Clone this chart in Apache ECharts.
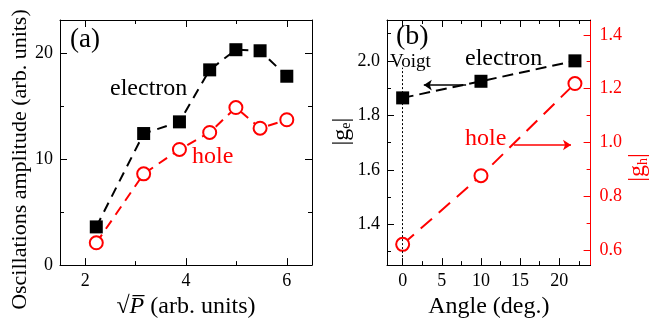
<!DOCTYPE html>
<html>
<head>
<meta charset="utf-8">
<script src="https://cdn.jsdelivr.net/npm/echarts@6/dist/echarts.min.js"></script>
<style>
  html, body { margin: 0; padding: 0; background: #fff; }
  #chart { width: 651px; height: 324px; }
</style>
</head>
<body>
<div id="chart"></div>
<script>
  // panel (a): oscillation amplitude vs sqrt(P)
  const sqrtP = [2.22, 3.16, 3.87, 4.47, 4.99, 5.47, 6.0];
  const electronAmp = [3.6, 12.4, 13.5, 18.4, 20.3, 20.2, 17.8];
  const holeAmp = [2.1, 8.6, 10.9, 12.5, 14.85, 12.9, 13.7];
  const sqrtPTicks = [2, 4, 6];
  const sqrtPMinor = [3, 5];
  const ampTicks = [0, 10, 20];
  const ampMinor = [5, 15];

  // panel (b): g-factors vs angle
  const angle = [0, 10, 22];
  const gElectron = [1.864, 1.925, 2.0];
  const gHole = [0.622, 0.877, 1.219];
  const angleTicks = [0, 5, 10, 15, 20];
  const angleMinor = [2.5, 7.5, 12.5, 17.5, 22.5];
  const geTicks = [1.4, 1.6, 1.8, 2.0];
  const geMinor = [1.3, 1.5, 1.7, 1.9, 2.1];
  const ghTicks = [0.6, 0.8, 1.0, 1.2, 1.4];
  const ghMinor = [0.7, 0.9, 1.1, 1.3];

  const serif = 'Times New Roman, Liberation Serif, DejaVu Serif, serif';
  const RED = '#ff0000';

  function tickAxis(grid, pos, min, max, ticks, len, color) {
    return {
      type: 'value', gridIndex: grid, position: pos, min: min, max: max,
      splitLine: { show: false },
      axisLine: { show: false, onZero: false },
      axisTick: { inside: true, length: len, customValues: ticks, lineStyle: { color: color, width: 1 } },
      axisLabel: { show: false }
    };
  }
  function frame(ax, color) {
    ax.axisLine = { show: true, onZero: false, lineStyle: { color: color, width: 1 } };
    return ax;
  }
  function labels(ax, ticks, color, margin, fmt) {
    ax.axisLabel = {
      show: true, customValues: ticks, color: color, margin: margin,
      fontFamily: serif, fontSize: 18, formatter: fmt
    };
    return ax;
  }
  function txt(x, y, s, size, color) {
    return {
      type: 'text', x: x, y: y, silent: true,
      style: {
        text: s, fontFamily: serif, fontSize: size, fill: color || '#000',
        align: 'left', verticalAlign: 'middle'
      }
    };
  }
  const oneDec = v => v.toFixed(1);

  // x axes
  let xa0 = labels(frame(tickAxis(0, 'bottom', 1.5, 6.5, sqrtPTicks, 7, '#000'), '#000'), sqrtPTicks, '#000', 7);
  xa0.name = '√{i|P\u0305} (arb. units)';
  xa0.nameLocation = 'middle';
  xa0.nameGap = 27;
  xa0.nameTextStyle = { fontFamily: serif, fontSize: 24, color: '#000',
    rich: { i: { fontFamily: serif, fontSize: 24, fontStyle: 'italic', color: '#000' } } };

  let xa4 = labels(frame(tickAxis(1, 'bottom', -2, 24, angleTicks, 7, '#000'), '#000'), angleTicks, '#000', 7);
  xa4.name = 'Angle (deg.)';
  xa4.nameLocation = 'middle';
  xa4.nameGap = 27;
  xa4.nameTextStyle = { fontFamily: serif, fontSize: 24, color: '#000' };

  const xAxes = [
    xa0,
    tickAxis(0, 'bottom', 1.5, 6.5, sqrtPMinor, 4, '#000'),
    frame(tickAxis(0, 'top', 1.5, 6.5, sqrtPTicks, 7, '#000'), '#000'),
    tickAxis(0, 'top', 1.5, 6.5, sqrtPMinor, 4, '#000'),
    xa4,
    tickAxis(1, 'bottom', -2, 24, angleMinor, 4, '#000'),
    frame(tickAxis(1, 'top', -2, 24, angleTicks, 7, '#000'), '#000'),
    tickAxis(1, 'top', -2, 24, angleMinor, 4, '#000')
  ];

  // y axes
  let ya0 = labels(frame(tickAxis(0, 'left', 0, 23.1, ampTicks, 7, '#000'), '#000'), ampTicks, '#000', 7);
  ya0.name = 'Oscillations amplitude (arb. units)';
  ya0.nameLocation = 'middle';
  ya0.nameRotate = 90;
  ya0.nameGap = 27;
  ya0.nameTextStyle = { fontFamily: serif, fontSize: 22, color: '#000', padding: [0, 34, 0, 0] };

  let ya4 = labels(frame(tickAxis(1, 'left', 1.25, 2.15, geTicks, 7, '#000'), '#000'), geTicks, '#000', 7, oneDec);
  ya4.name = '|g{s|e}|';
  ya4.nameLocation = 'middle';
  ya4.nameRotate = 90;
  ya4.nameGap = 25;
  ya4.nameTextStyle = { fontFamily: serif, fontSize: 24, color: '#000', padding: [0, 0, 0, 22],
    rich: { s: { fontFamily: serif, fontSize: 14, color: '#000', verticalAlign: 'bottom' } } };

  let ya6 = labels(frame(tickAxis(1, 'right', 0.545, 1.455, ghTicks, 7, RED), RED), ghTicks, RED, 9, oneDec);
  ya6.name = '|g{s|h}|';
  ya6.nameLocation = 'middle';
  ya6.nameRotate = 90;
  ya6.nameGap = 20;
  ya6.nameTextStyle = { fontFamily: serif, fontSize: 24, color: RED, padding: [0, 50, 0, 0],
    rich: { s: { fontFamily: serif, fontSize: 14, color: RED, verticalAlign: 'bottom' } } };

  const yAxes = [
    ya0,
    tickAxis(0, 'left', 0, 23.1, ampMinor, 4, '#000'),
    frame(tickAxis(0, 'right', 0, 23.1, ampTicks, 7, '#000'), '#000'),
    tickAxis(0, 'right', 0, 23.1, ampMinor, 4, '#000'),
    ya4,
    tickAxis(1, 'left', 1.25, 2.15, geMinor, 4, '#000'),
    ya6,
    tickAxis(1, 'right', 0.545, 1.455, ghMinor, 4, RED)
  ];

  const chart = echarts.init(document.getElementById('chart'));

  const option = {
    animation: false,
    backgroundColor: '#fff',
    textStyle: { fontFamily: serif },
    grid: [
      { left: 60, right: 339, top: 20, bottom: 58 },
      { left: 387, right: 52, top: 20, bottom: 58 }
    ],
    xAxis: xAxes,
    yAxis: yAxes,
    graphic: [
      txt(70, 40, '(a)', 27),
      txt(110, 89, 'electron', 24),
      txt(192, 157, 'hole', 24, RED),
      txt(396, 37, '(b)', 28),
      txt(390, 62, 'Voigt', 19),
      txt(465, 59, 'electron', 24),
      txt(465, 139, 'hole', 24, RED)
    ],
    series: [
      {
        name: 'electron', type: 'line', xAxisIndex: 0, yAxisIndex: 0,
        data: sqrtP.map((x, i) => [x, electronAmp[i]]),
        symbol: 'rect', symbolSize: 13,
        itemStyle: { color: '#000' },
        lineStyle: { color: '#000', width: 2, type: [10, 7] }
      },
      {
        name: 'hole', type: 'line', xAxisIndex: 0, yAxisIndex: 0,
        data: sqrtP.map((x, i) => [x, holeAmp[i]]),
        symbol: 'emptyCircle', symbolSize: 13,
        itemStyle: { color: RED, borderWidth: 2 },
        lineStyle: { color: RED, width: 2, type: [10, 7] }
      },
      {
        name: '|g_e|', type: 'line', xAxisIndex: 4, yAxisIndex: 4,
        data: angle.map((x, i) => [x, gElectron[i]]),
        symbol: 'rect', symbolSize: 13,
        itemStyle: { color: '#000' },
        lineStyle: { color: '#000', width: 2, type: [11, 6] },
        markLine: {
          silent: true, animation: false,
          symbol: ['none', 'arrow'], symbolSize: 8,
          label: { show: false },
          lineStyle: { color: '#000', width: 1.5, type: 'solid' },
          data: [
            [{ coord: [8.1, 1.911] }, { coord: [2.7, 1.911] }],
            [
              { coord: [0, 1.25], symbol: 'none', lineStyle: { color: '#000', width: 1, type: [2, 2] } },
              { coord: [0, 1.975], symbol: 'none', lineStyle: { color: '#000', width: 1, type: [2, 2] } }
            ]
          ]
        }
      },
      {
        name: '|g_h|', type: 'line', xAxisIndex: 4, yAxisIndex: 6,
        data: angle.map((x, i) => [x, gHole[i]]),
        symbol: 'emptyCircle', symbolSize: 13,
        itemStyle: { color: RED, borderWidth: 2 },
        lineStyle: { color: RED, width: 2, type: [15, 9] },
        markLine: {
          silent: true, animation: false,
          symbol: ['none', 'arrow'], symbolSize: 8,
          label: { show: false },
          lineStyle: { color: RED, width: 1.5, type: 'solid' },
          data: [
            [{ coord: [14.2, 0.991] }, { coord: [21.5, 0.991] }]
          ]
        }
      }
    ]
  };

  chart.setOption(option);
</script>
</body>
</html>
